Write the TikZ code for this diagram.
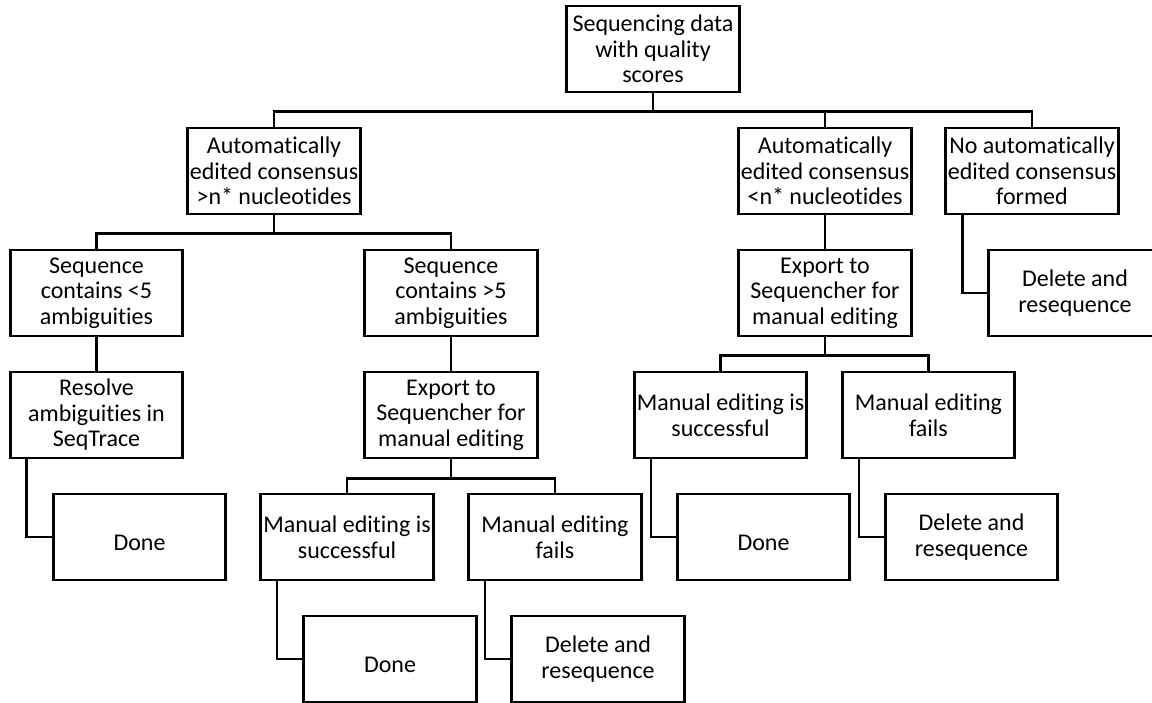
\documentclass[tikz,border=0pt]{standalone}
\usepackage{fontspec}
\setmainfont[Ligatures=NoCommon]{Carlito}
\usetikzlibrary{calc}
\tikzset{
  box/.style={draw=black, line width=2.6pt, minimum width=172.5pt, minimum height=86pt,
    inner sep=0pt, align=center, font=\fontsize{24}{25.5}\selectfont,
    execute at begin node={\rule{0pt}{28pt}}},
  link/.style={draw=black, line width=2.6pt},
}
\begin{document}
\begin{tikzpicture}[x=1pt,y=-1pt]
\useasboundingbox (0,0) rectangle (1152,702);
\clip (0,0) rectangle (1152,702);
% row 0
\node[box] (top) at (653,49) {Sequencing data\\with quality\\scores};
% row 1
\node[box] (A1) at (274,171) {Automatically\\edited consensus\\>n* nucleotides};
\node[box] (A2) at (825,171) {Automatically\\edited consensus\\<n* nucleotides};
\node[box] (A3) at (1032,171) {No automatically\\edited consensus\\formed};
% row 2
\node[box] (B1) at (96.5,293) {Sequence\\contains <5\\ambiguities};
\node[box] (B2) at (451,293) {Sequence\\contains >5\\ambiguities};
\node[box] (E) at (825,293) {Export to\\Sequencher for\\manual editing};
\node[box] (G) at (1075,293) {Delete and\\resequence};
% row 3
\node[box] (C1) at (96.5,415) {Resolve\\ambiguities in\\SeqTrace};
\node[box] (C2) at (451,415) {Export to\\Sequencher for\\manual editing};
\node[box] (F1) at (720.5,415) {Manual editing is\\successful};
\node[box] (F2) at (928.5,415) {Manual editing\\fails};
% row 4
\node[box] (H1) at (139.5,537) {Done};
\node[box] (D1) at (347,537) {Manual editing is\\successful};
\node[box] (D2) at (555,537) {Manual editing\\fails};
\node[box] (F1d) at (763.5,537) {Done};
\node[box] (F2d) at (971.5,537) {Delete and\\resequence};
% row 5
\node[box] (D1d) at (390,659) {Done};
\node[box] (D2d) at (598,659) {Delete and\\resequence};
% forks
\draw[link] (top.south) -- +(0,18) -| (A1.north);
\draw[link] (top.south) -- +(0,18) -| (A2.north);
\draw[link] (top.south) -- +(0,18) -| (A3.north);
\draw[link] (A1.south) -- +(0,18) -| (B1.north);
\draw[link] (A1.south) -- +(0,18) -| (B2.north);
\draw[link] (E.south) -- +(0,18) -| (F1.north);
\draw[link] (E.south) -- +(0,18) -| (F2.north);
\draw[link] (C2.south) -- +(0,19) -| (D1.north);
\draw[link] (C2.south) -- +(0,19) -| (D2.north);
% straight
\draw[link] (A2.south) -- (E.north);
\draw[link] (B1.south) -- (C1.north);
\draw[link] (B2.south) -- (C2.north);
% elbows
\draw[link] ($(A3.south west)+(18,0)$) |- (G.west);
\draw[link] ($(C1.south west)+(17.5,0)$) |- (H1.west);
\draw[link] ($(F1.south west)+(18,0)$) |- (F1d.west);
\draw[link] ($(F2.south west)+(18,0)$) |- (F2d.west);
\draw[link] ($(D1.south west)+(17.5,0)$) |- (D1d.west);
\draw[link] ($(D2.south west)+(17.5,0)$) |- (D2d.west);
\end{tikzpicture}
\end{document}
